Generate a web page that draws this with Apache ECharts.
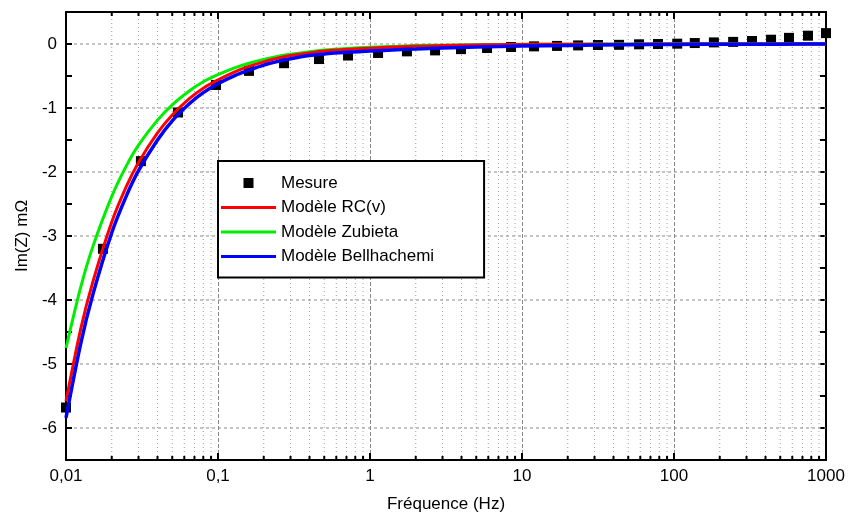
<!DOCTYPE html>
<html>
<head>
<meta charset="utf-8">
<script src="https://cdn.jsdelivr.net/npm/echarts@6/dist/echarts.min.js"></script>
<style>html,body{margin:0;padding:0;background:#fff}#c{width:848px;height:515px}</style>
</head>
<body>
<div id="c"></div>
<script>
// ---- data ----
const mesureFreq = [0.01, 0.0175, 0.0311, 0.0546, 0.097, 0.16, 0.272, 0.462, 0.717, 1.13, 1.75, 2.68, 3.97, 5.89, 8.47, 12, 17, 23.4, 31.6, 43.5, 58.9, 78.5, 105, 137, 183, 245, 326, 435, 571, 761, 1000];
const mesureIm = [-5.68, -3.2, -1.83, -1.07, -0.64, -0.42, -0.3, -0.235, -0.18, -0.14, -0.115, -0.1, -0.08, -0.063, -0.047, -0.037, -0.03, -0.022, -0.016, -0.013, -0.005, 0, 0.005, 0.015, 0.025, 0.033, 0.047, 0.067, 0.096, 0.13, 0.17];

const modelFreq = [0.01, 0.0125, 0.015, 0.02, 0.025, 0.03, 0.04, 0.05, 0.065, 0.08, 0.1, 0.13, 0.16, 0.2, 0.25, 0.3, 0.4, 0.5, 0.7, 1, 1.5, 2, 3, 5, 7, 10, 20, 50, 100, 200, 500, 1000];
const rcIm = [-5.58, -4.45, -3.72, -2.78, -2.22, -1.85, -1.39, -1.11, -0.85, -0.69, -0.56, -0.43, -0.35, -0.28, -0.22, -0.18, -0.14, -0.11, -0.085, -0.065, -0.045, -0.035, -0.025, -0.015, -0.01, -0.007, -0.004, -0.002, -0.001, 0, 0, 0];
const zubietaIm = [-4.75, -3.8, -3.17, -2.38, -1.9, -1.58, -1.19, -0.95, -0.73, -0.59, -0.48, -0.37, -0.3, -0.24, -0.19, -0.16, -0.12, -0.095, -0.07, -0.05, -0.035, -0.025, -0.018, -0.01, -0.007, -0.005, -0.002, 0, 0.002, 0.003, 0.003, 0.003];
const bellIm = [-5.84, -4.68, -3.92, -2.95, -2.37, -1.98, -1.5, -1.2, -0.93, -0.76, -0.62, -0.49, -0.41, -0.33, -0.27, -0.23, -0.18, -0.155, -0.13, -0.11, -0.09, -0.078, -0.062, -0.048, -0.04, -0.033, -0.022, -0.012, -0.007, -0.004, -0.002, -0.001];

const xTickDecades = [0.01, 0.1, 1, 10, 100, 1000];
const xMinorTicks = [0.02,0.03,0.04,0.05,0.06,0.07,0.08,0.09, 0.2,0.3,0.4,0.5,0.6,0.7,0.8,0.9, 2,3,4,5,6,7,8,9, 20,30,40,50,60,70,80,90, 200,300,400,500,600,700,800,900];
const yMajorTicks = [-6, -5, -4, -3, -2, -1, 0];
const X_MIN = 0.01, X_MAX = 1000, Y_MIN = -6.5, Y_MAX = 0.5;

const seriesNames = ['Mesure', 'Modèle RC(v)', 'Modèle Zubieta', 'Modèle Bellhachemi'];

const FONT = 'Liberation Sans, Arial, sans-serif';
const zip = (a, b) => a.map((v, i) => [v, b[i]]);

const chart = echarts.init(document.getElementById('c'), null, {renderer: 'canvas'});

const baseX = {
  type: 'log', logBase: 10, min: X_MIN, max: X_MAX,
  axisLine: {show: true, onZero: false, lineStyle: {color: '#000', width: 2}},
  axisTick: {show: true, inside: true, length: 7, lineStyle: {color: '#000', width: 2}},
  splitLine: {show: false},
  minorTick: {show: false}
};
const baseY = {
  type: 'value', min: Y_MIN, max: Y_MAX, interval: 0.5,
  axisLine: {show: true, onZero: false, lineStyle: {color: '#000', width: 2}},
  axisTick: {show: true, inside: true, length: 6, lineStyle: {color: '#000', width: 2}},
  splitLine: {show: false}
};

const SQUARE_ICON = 'path://M0,0h10v10h-10z';
const LINE_ICON = 'path://M0,0h55v3h-55z';

chart.setOption({
  animation: false,
  backgroundColor: '#fff',
  textStyle: {fontFamily: FONT},
  grid: {left: 66, right: 22, top: 12, bottom: 55, containLabel: false, outerBoundsMode: 'none'},
  xAxis: [
    Object.assign({}, baseX, {
      position: 'bottom',
      name: 'Fréquence (Hz)', nameLocation: 'middle', nameGap: 36,
      nameTextStyle: {fontSize: 17, color: '#000', fontFamily: FONT},
      axisLabel: {show: true, margin: 8, fontSize: 17, color: '#000', fontFamily: FONT,
        formatter: v => String(+v.toPrecision(6)).replace('.', ',')},
      splitLine: {show: true, lineStyle: {color: '#8a8a8a', width: 1, type: [4, 2]}}
    }),
    Object.assign({}, baseX, {position: 'top', axisLabel: {show: false}})
  ],
  yAxis: [
    Object.assign({}, baseY, {
      position: 'left',
      name: 'Im(Z) mΩ', nameLocation: 'middle', nameGap: 33,
      nameTextStyle: {fontSize: 17, color: '#000', fontFamily: FONT},
      axisLabel: {show: true, margin: 9, fontSize: 17, color: '#000', fontFamily: FONT,
        formatter: v => (Math.abs(v - Math.round(v)) < 1e-9 ? String(Math.round(v)) : '')}
    }),
    Object.assign({}, baseY, {position: 'right', axisLabel: {show: false}})
  ],
  legend: {
    data: [
      {name: seriesNames[0], icon: SQUARE_ICON},
      {name: seriesNames[1], icon: LINE_ICON},
      {name: seriesNames[2], icon: LINE_ICON},
      {name: seriesNames[3], icon: LINE_ICON}
    ],
    symbolKeepAspect: true,
    orient: 'vertical', left: 218, top: 161,
    backgroundColor: '#fff', borderColor: '#000', borderWidth: 2,
    padding: [12, 50, 11, 3],
    itemWidth: 55, itemHeight: 10, itemGap: 4.5,
    textStyle: {fontSize: 17, lineHeight: 20, color: '#000', fontFamily: FONT},
    selectedMode: false
  },
  series: [
    {
      name: 'minorGridX', type: 'custom', silent: true, z: 1,
      data: xMinorTicks.map(v => [v, Y_MIN]),
      encode: {x: 0, y: 1},
      renderItem: function (params, api) {
        const v = api.value(0);
        const b = api.coord([v, Y_MIN]);
        const t = api.coord([v, Y_MAX]);
        return {
          type: 'group',
          children: [
            {type: 'line', shape: {x1: b[0], y1: b[1], x2: t[0], y2: t[1]},
             style: {stroke: '#a0a0a0', lineWidth: 1, lineDash: [1, 3]}},
            {type: 'line', shape: {x1: b[0], y1: b[1], x2: b[0], y2: b[1] - 4},
             style: {stroke: '#000', lineWidth: 2}},
            {type: 'line', shape: {x1: t[0], y1: t[1], x2: t[0], y2: t[1] + 4},
             style: {stroke: '#000', lineWidth: 2}}
          ]
        };
      }
    },
    {
      name: 'gridY', type: 'custom', silent: true, z: 1,
      data: yMajorTicks.map(v => [X_MIN, v]),
      encode: {x: 0, y: 1},
      renderItem: function (params, api) {
        const v = api.value(1);
        const l = api.coord([X_MIN, v]);
        const r = api.coord([X_MAX, v]);
        return {type: 'line', shape: {x1: l[0] + 8, y1: l[1], x2: r[0], y2: r[1]},
          style: {stroke: '#8a8a8a', lineWidth: 1, lineDash: [3, 3]}};
      }
    },
    {
      name: 'Mesure', type: 'scatter', z: 2,
      symbol: 'rect', symbolSize: 10,
      itemStyle: {color: '#000', opacity: 1},
      data: zip(mesureFreq, mesureIm)
    },
    {
      name: 'Modèle RC(v)', type: 'line', z: 4, smooth: 0.3,
      showSymbol: false, symbol: 'none',
      lineStyle: {color: '#ff0000', width: 3},
      itemStyle: {color: '#ff0000'},
      data: zip(modelFreq, rcIm)
    },
    {
      name: 'Modèle Zubieta', type: 'line', z: 3, smooth: 0.3,
      showSymbol: false, symbol: 'none',
      lineStyle: {color: '#00ee00', width: 3},
      itemStyle: {color: '#00ee00'},
      data: zip(modelFreq, zubietaIm)
    },
    {
      name: 'Modèle Bellhachemi', type: 'line', z: 5, smooth: 0.3,
      showSymbol: false, symbol: 'none',
      lineStyle: {color: '#0000ff', width: 3.5},
      itemStyle: {color: '#0000ff'},
      data: zip(modelFreq, bellIm)
    }
  ]
});
</script>
</body>
</html>
